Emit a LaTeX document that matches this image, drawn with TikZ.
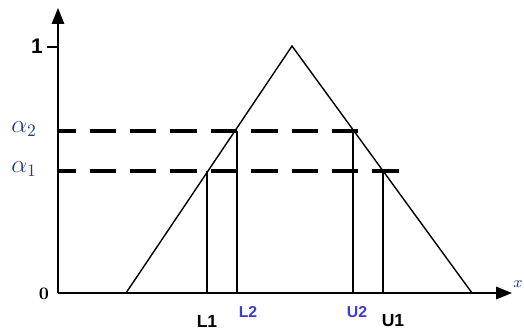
\documentclass[tikz,border=0pt]{standalone}
\usepackage{amsmath}
\usepackage{fontspec}
\setsansfont{Liberation Sans}
\usetikzlibrary{arrows.meta}
\definecolor{lblue}{RGB}{60,60,210}
\definecolor{ablue}{RGB}{30,60,140}

\begin{document}
\begin{tikzpicture}[>={Triangle[length=9pt,width=7pt]}, x=0.02cm, y=-0.02cm]
  \tikzset{
    axis/.style={line width=1.1pt},
    cut/.style={line width=2.3pt, dash pattern=on 15pt off 8pt, dash phase=5pt},
    edge/.style={line width=0.8pt},
    lab/.style={font=\sffamily\bfseries},
    lab2/.style={font=\sffamily\bfseries\small, text=lblue},
  }
  \useasboundingbox (0,0) rectangle (524,329);
  % axes
  \coordinate (o) at (58,293);
  \coordinate (ytop) at (58,8);
  \coordinate (xend) at (512,293);
  \draw[axis,->] (o) -- (ytop);
  \draw[axis,->] (o) -- (xend);
  \node[ablue, font=\small\itshape] (xl) at (518,284) {$x$};
  \node[font=\bfseries] (zero) at (44,294) {0};
  % tick at 1
  \coordinate (one) at (58,47);
  \coordinate (onet) at (47,47);
  \draw[edge] (onet) -- (one);
  \node[font=\sffamily\bfseries\large] (onel) at (37,46) {1};
  % triangular membership function
  \coordinate (a) at (126,293);
  \coordinate (m) at (292,46);
  \coordinate (b) at (472,293);
  \draw[edge] (a) -- (m) -- (b);
  % alpha cuts (rough)
  \coordinate (c2s) at (58,131);
  \coordinate (c2e) at (366,131);
  \coordinate (c1s) at (58,171);
  \coordinate (c1e) at (400,171);
  \draw[cut] (c2s) -- (c2e);
  \draw[cut] (c1s) -- (c1e);
  \node[ablue, font=\Large] (al2) at (24,129) {$\alpha_2$};
  \node[ablue, font=\Large] (al1) at (24,169) {$\alpha_1$};
  % cut points
  \coordinate (l1t) at (207,171);
  \coordinate (l2t) at (237,131);
  \coordinate (u2t) at (353,131);
  \coordinate (u1t) at (383,171);
  \draw[axis] (l1t) -- (l1t |- o);
  \draw[axis] (l2t) -- (l2t |- o);
  \draw[axis] (u2t) -- (u2t |- o);
  \draw[axis] (u1t) -- (u1t |- o);
  \node[lab] (l1) at (207,321) {L1};
  \node[lab2] (l2) at (248,312) {L2};
  \node[lab2] (u2) at (357,312) {U2};
  \node[lab] (u1) at (393,321) {U1};
\end{tikzpicture}
\end{document}
